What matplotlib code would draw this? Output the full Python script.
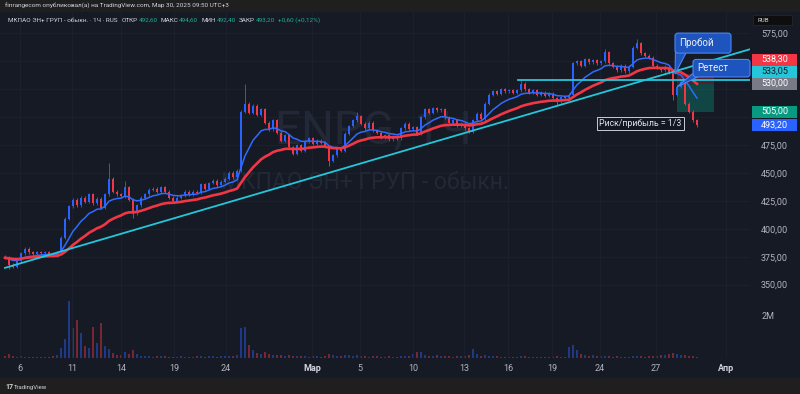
import numpy as np
import pandas as pd
import matplotlib
matplotlib.use('Agg')
import matplotlib.pyplot as plt
from matplotlib.patches import Rectangle, FancyBboxPatch, Polygon
from matplotlib.transforms import IdentityTransform, blended_transform_factory

plt.rcParams['font.family'] = ['Roboto', 'DejaVu Sans']

# ---------------- data (hourly-ish candles, ENPG) ----------------
closes = [
    374, 368, 366, 371, 378, 382, 379, 377, 379, 378,
    379, 377, 376, 379, 392, 409, 420, 426, 421, 428,
    424, 431, 423, 427, 419, 431, 445, 433, 431, 429,
    437, 426, 414, 421, 428, 431, 435, 436, 433, 437,
    433, 428, 425, 428, 430, 433, 431, 433, 432, 440,
    436, 441, 443, 439, 442, 445, 450, 446, 452, 505,
    512, 504, 510, 502, 507, 495, 489, 497, 486, 479,
    484, 473, 467, 475, 470, 478, 481, 476, 479, 477,
    474, 461, 466, 472, 470, 485, 492, 497, 501, 494,
    490, 495, 488, 486, 482, 484, 480, 483, 481, 490,
    494, 489, 491, 485, 500, 507, 504, 508, 506, 507,
    500, 495, 497, 492, 494, 490, 487, 497, 503, 498,
    512, 520, 523, 521, 525, 523, 524, 522, 524, 530,
    525, 522, 524, 520, 522, 519, 521, 517, 514, 518,
    517, 520, 548, 550, 546, 552, 549, 551, 548, 550,
    558, 548, 545, 542, 546, 541, 545, 562, 566, 557,
    555, 553, 546, 544, 542, 545, 540, 520, 527, 531,
    512, 505, 497, 493.2,
]
first_open = 375.0
spike_highs = {26: 459, 30: 443, 60: 530, 88: 505, 129: 533, 150: 561, 158: 570, 169: 533}
spike_lows = {1: 364, 32: 410, 81: 456, 138: 511, 167: 515, 173: 491}

volumes_m = [
    0.10, 0.18, 0.08, 0.06, 0.10, 0.05, 0.05, 0.04, 0.05, 0.04, 0.06, 0.05, 0.07, 0.12,
    0.45, 0.90, 2.65, 1.40, 1.77, 1.16, 0.55, 0.45, 1.44, 0.70, 1.63, 0.55, 0.40, 0.25,
    0.15, 0.12, 0.30, 0.20, 0.35, 0.18, 0.10, 0.08, 0.07, 0.06, 0.08, 0.10, 0.07, 0.06,
    0.05, 0.06, 0.07, 0.05, 0.06, 0.05, 0.08, 0.10, 0.06, 0.07, 0.09, 0.06, 0.07, 0.08, 0.10, 0.08, 0.12,
    1.40, 1.45, 0.60, 0.35, 0.25, 0.20, 0.30, 0.18, 0.15, 0.12, 0.15, 0.10, 0.12, 0.10,
    0.08, 0.07, 0.10, 0.06, 0.07, 0.08, 0.06, 0.09, 0.20, 0.12, 0.10, 0.08, 0.15, 0.12, 0.10,
    0.14, 0.08, 0.07, 0.06, 0.08, 0.07, 0.06, 0.05, 0.07, 0.06, 0.05, 0.08,
    0.10, 0.07, 0.20, 0.30, 0.28, 0.15, 0.10, 0.08, 0.12, 0.07, 0.10, 0.08, 0.06, 0.07, 0.10,
    0.09, 0.12, 0.40, 0.18, 0.10,
    0.12, 0.10, 0.08, 0.07, 0.06, 0.05, 0.06, 0.05, 0.04, 0.10, 0.08, 0.06, 0.05, 0.06, 0.04,
    0.05, 0.06, 0.05, 0.07, 0.05, 0.06, 0.50,
    0.62, 0.35, 0.20, 0.15, 0.10, 0.12, 0.08, 0.07, 0.10, 0.08, 0.06, 0.07, 0.05, 0.06, 0.05,
    0.08, 0.10, 0.07, 0.06, 0.08, 0.10, 0.07, 0.12, 0.15, 0.20, 0.22, 0.18, 0.15, 0.12, 0.10,
    0.08, 0.06,
]
assert len(closes) == len(volumes_m)

day_tick_idx = [3.75, 16.75, 29.0, 42.25, 55.25, 76.75, 88.75, 102.0, 114.75, 125.75,
                136.75, 148.75, 162.75, 180.25]
day_tick_labels = ['6', '11', '14', '19', '24', 'Мар', '5', '10', '13', '16', '19', '24', '27', 'Апр']
month_labels = {'Мар', 'Апр'}
price_ticks = [350, 375, 400, 425, 450, 475, 500, 525, 550, 575]

trend_idx = [0.0, 186.0]
trend_price = [365.0, 560.5]
level_price = 533.05
level_start_idx = 128.25
entry_price = 530.00
stop_price = 538.30
target_price = 505.00
pos_idx = [168.0, 177.25]
last_price = 493.20

callout_texts = ['Пробой', 'Ретест']
callout_idx = [167.5, 168.0]
callout_price = [538.5, 527.0]

header_text = 'finrangecom опубликовал(а) на TradingView.com, Мар 30, 2025 09:50 UTC+3'
symbol_text = 'МКПАО ЭН+ ГРУП - обыкн. · 1Ч · RUS'
legend_items = [('ОТКР', '492,60'), ('МАКС', '494,60'), ('МИН', '492,40'), ('ЗАКР', '493,20')]
legend_change = '+0,60 (+0,12%)'
rr_text = 'Риск/прибыль = 1/3'

# ---------------- style ----------------
W, H, DPI = 800, 394, 100
BG = '#161a25'
FRAME = '#1f1f1f'
GRID = '#1e2230'
TXT = '#b2b5be'
UP = '#2962ff'
DOWN = '#f23645'
CYAN = '#26c6da'
GREEN = '#22ab94'
WICK = 1.3
PANEL_TOP, PANEL_BOTTOM = 12, 377
PLOT_BOTTOM, PLOT_RIGHT = 358, 750
XLIM = (-1.25, 186.25)
YLIM = (284.3, 594.1)
VOL_TOP = 16.1


def fig_rect(left, top, right, bottom):
    return [left / W, 1 - bottom / H, (right - left) / W, (bottom - top) / H]


fig = plt.figure(figsize=(W / DPI, H / DPI), dpi=DPI, facecolor=FRAME)
fig.add_artist(Rectangle((0, 1 - PANEL_BOTTOM / H), 1, (PANEL_BOTTOM - PANEL_TOP) / H,
                         transform=fig.transFigure, color=BG, zorder=-1))

axv = fig.add_axes(fig_rect(0, PANEL_TOP, PLOT_RIGHT, PLOT_BOTTOM))
ax = fig.add_axes(fig_rect(0, PANEL_TOP, PLOT_RIGHT, PLOT_BOTTOM))
ax_r = fig.add_axes(fig_rect(PLOT_RIGHT, PANEL_TOP, W, PLOT_BOTTOM))
for a in (axv, ax, ax_r):
    a.set_facecolor('none')
    for s in a.spines.values():
        s.set_visible(False)

n = len(closes)
idx = np.arange(n)
c = np.array(closes, dtype=float)
o = np.r_[first_open, c[:-1]]
up = c >= o
col = np.where(up, UP, DOWN)
hi = np.maximum(o, c) + WICK
lo = np.minimum(o, c) - WICK
for k, v in spike_highs.items():
    hi[k] = v
for k, v in spike_lows.items():
    lo[k] = v

# volume
axv.bar(idx, volumes_m, width=0.62, color=col, alpha=0.45, linewidth=0)
axv.set_xlim(*XLIM)
axv.set_ylim(0, VOL_TOP)
axv.set_xticks([])
axv.yaxis.tick_right()
axv.set_yticks([2])
axv.set_yticklabels(['2M'])
axv.tick_params(axis='y', length=0, pad=8, labelsize=6.5, labelcolor=TXT)

# right-side price labels: stacked positions (like TradingView)
px_per_price = (PLOT_BOTTOM - PANEL_TOP) / (YLIM[1] - YLIM[0])
lab_h = 12 / px_per_price
items = sorted([
    (last_price, UP, 'white'),
    (target_price, '#089981', 'white'),
    (entry_price, '#787b86', 'white'),
    (level_price, CYAN, '#131722'),
    (stop_price, DOWN, 'white'),
])
stacked = []
prev = -np.inf
for v, fc, tc in items:
    pos = max(v, prev + lab_h)
    prev = pos
    stacked.append((v, pos, fc, tc))

# price axes
ax.set_xlim(*XLIM)
ax.set_ylim(*YLIM)
ax.set_axisbelow(True)
ax.grid(True, color=GRID, linewidth=0.6)
ax.yaxis.tick_right()
ax.set_yticks(price_ticks)
tick_txt = []
for p in price_ticks:
    covered = any(abs(p - pos) < lab_h for _, pos, _, _ in stacked)
    tick_txt.append('' if covered else f'{p:.2f}'.replace('.', ','))
ax.set_yticklabels(tick_txt)
ax.tick_params(axis='y', length=0, pad=8, labelsize=6.5, labelcolor=TXT)
ax.set_xticks(day_tick_idx)
ax.set_xticklabels(day_tick_labels)
ax.tick_params(axis='x', length=0, pad=4, labelsize=6.5, labelcolor=TXT)
for lab in ax.get_xticklabels():
    if lab.get_text() in month_labels:
        lab.set_fontweight('bold')
        lab.set_color('#d1d4dc')

# watermark
ax.text(92, 488.5, 'ENPG, 1Ч', fontsize=33, color='#232836', ha='center', va='center', zorder=1)
ax.text(90, 441.5, 'МКПАО ЭН+ ГРУП - обыкн.', fontsize=16.5, color='#232836', ha='center',
        va='center', zorder=1)

# candles
ax.vlines(idx, lo, hi, colors=col, linewidth=0.6, zorder=2)
ax.bar(idx, np.maximum(np.abs(c - o), 0.4), bottom=np.minimum(o, c), width=0.62,
       color=col, linewidth=0, zorder=3)

# moving averages
s = pd.Series(c)
ema_fast = s.ewm(span=10, adjust=False).mean()
ema_slow = s.ewm(span=26, adjust=False).mean()
ax.plot(idx, ema_fast, color='#2f6bff', linewidth=1.1, zorder=4)
ax.plot(idx, ema_slow, color='#f23645', linewidth=1.9, zorder=4)

# trend line (extended to the right edge)
slope = (trend_price[1] - trend_price[0]) / (trend_idx[1] - trend_idx[0])
xr = XLIM[1]
ax.plot([trend_idx[0], xr], [trend_price[0], trend_price[0] + slope * (xr - trend_idx[0])],
        color=CYAN, linewidth=1.3, zorder=5)
# horizontal level
ax.plot([level_start_idx, xr], [level_price, level_price], color=CYAN, linewidth=1.3, zorder=5)

# position tool
ax.add_patch(Rectangle((pos_idx[0], entry_price), pos_idx[1] - pos_idx[0], stop_price - entry_price,
                       facecolor=DOWN, alpha=0.25, linewidth=0, zorder=1.5))
ax.add_patch(Rectangle((pos_idx[0], target_price), pos_idx[1] - pos_idx[0], entry_price - target_price,
                       facecolor='#089981', alpha=0.35, linewidth=0, zorder=1.5))
ax.annotate(rr_text, xy=(pos_idx[0], target_price), xytext=(-26.5, -8.5), textcoords='offset points',
            ha='center', va='center', fontsize=6.3, color='#e0e3eb', zorder=8,
            bbox=dict(boxstyle='square,pad=0.25', fc='#131722', ec='#c9ccd4', lw=0.7))

# callouts (display pixel geometry relative to anchor)
callout_geom = [  # dx to box left, dy to box bottom, width, height
    (0, 21, 56, 20),
    (16, 10, 57, 17.5),
]
for text, xi, pr, (dx, dy, bw, bh) in zip(callout_texts, callout_idx, callout_price, callout_geom):
    axp, ayp = ax.transData.transform((xi, pr))
    left, bottom = axp + dx, ayp + dy
    tail = Polygon([(left + 0.5, bottom + 4), (left + 13, bottom + 4), (axp, ayp)], closed=True,
                   transform=IdentityTransform(), fc='#1d54bd', ec='#4a86f7', lw=0.8, zorder=9)
    box = FancyBboxPatch((left, bottom), bw, bh, boxstyle='round,pad=0,rounding_size=3',
                         transform=IdentityTransform(), fc='#1d54bd', ec='#4a86f7', lw=0.8, zorder=10)
    fig.add_artist(tail)
    fig.add_artist(box)
    fig.add_artist(plt.Text(left + 4, bottom + bh / 2, text, transform=IdentityTransform(),
                            ha='left', va='center', fontsize=7, color='#eef0f5', zorder=11))

ax_r.set_xlim(0, 1)
ax_r.set_ylim(*YLIM)
ax_r.axis('off')
tr = blended_transform_factory(ax_r.transAxes, ax_r.transData)
for v, pos, fc, tc in stacked:
    ax_r.add_patch(Rectangle((0.04, pos - lab_h / 2), 0.9, lab_h, transform=tr, fc=fc, lw=0, zorder=3))
    ax_r.text(0.49, pos, f'{v:.2f}'.replace('.', ','), transform=tr, ha='center', va='center',
              fontsize=6.5, color=tc, zorder=4)

# header / legend / footer
fig.text(5 / W, 1 - 6 / H, header_text, fontsize=4.6, color='#d1d4dc', ha='left', va='center')
renderer = fig.canvas.get_renderer()
x = 8
segments = [(symbol_text, '#d1d4dc', 4)]
for lab, val in legend_items:
    segments.append((lab, '#d1d4dc', 0.8))
    segments.append((val, GREEN, 3))
segments.append((legend_change, GREEN, 0))
for txt, colr, gap in segments:
    t = fig.text(x / W, 1 - 20 / H, txt, fontsize=4.6, color=colr, ha='left', va='center')
    bb = t.get_window_extent(renderer)
    x = bb.x1 + gap

fig.add_artist(Rectangle((753 / W, 1 - 25 / H), 39 / W, 10 / H, transform=fig.transFigure,
                         fc='#0e0e0e', ec='#2a2a2a', lw=0.5, zorder=5))
fig.text(757 / W, 1 - 20 / H, 'RUB', fontsize=4.5, color='#d1d4dc', ha='left', va='center', zorder=6)

fig.text(5 / W, 1 - 387 / H, '17', fontsize=5, fontweight='bold', color='#d1d4dc', ha='left', va='center')
fig.text(14 / W, 1 - 387 / H, 'TradingView', fontsize=4.3, color='#d1d4dc', ha='left', va='center')

fig.savefig('out.png', dpi=DPI, facecolor=FRAME)
